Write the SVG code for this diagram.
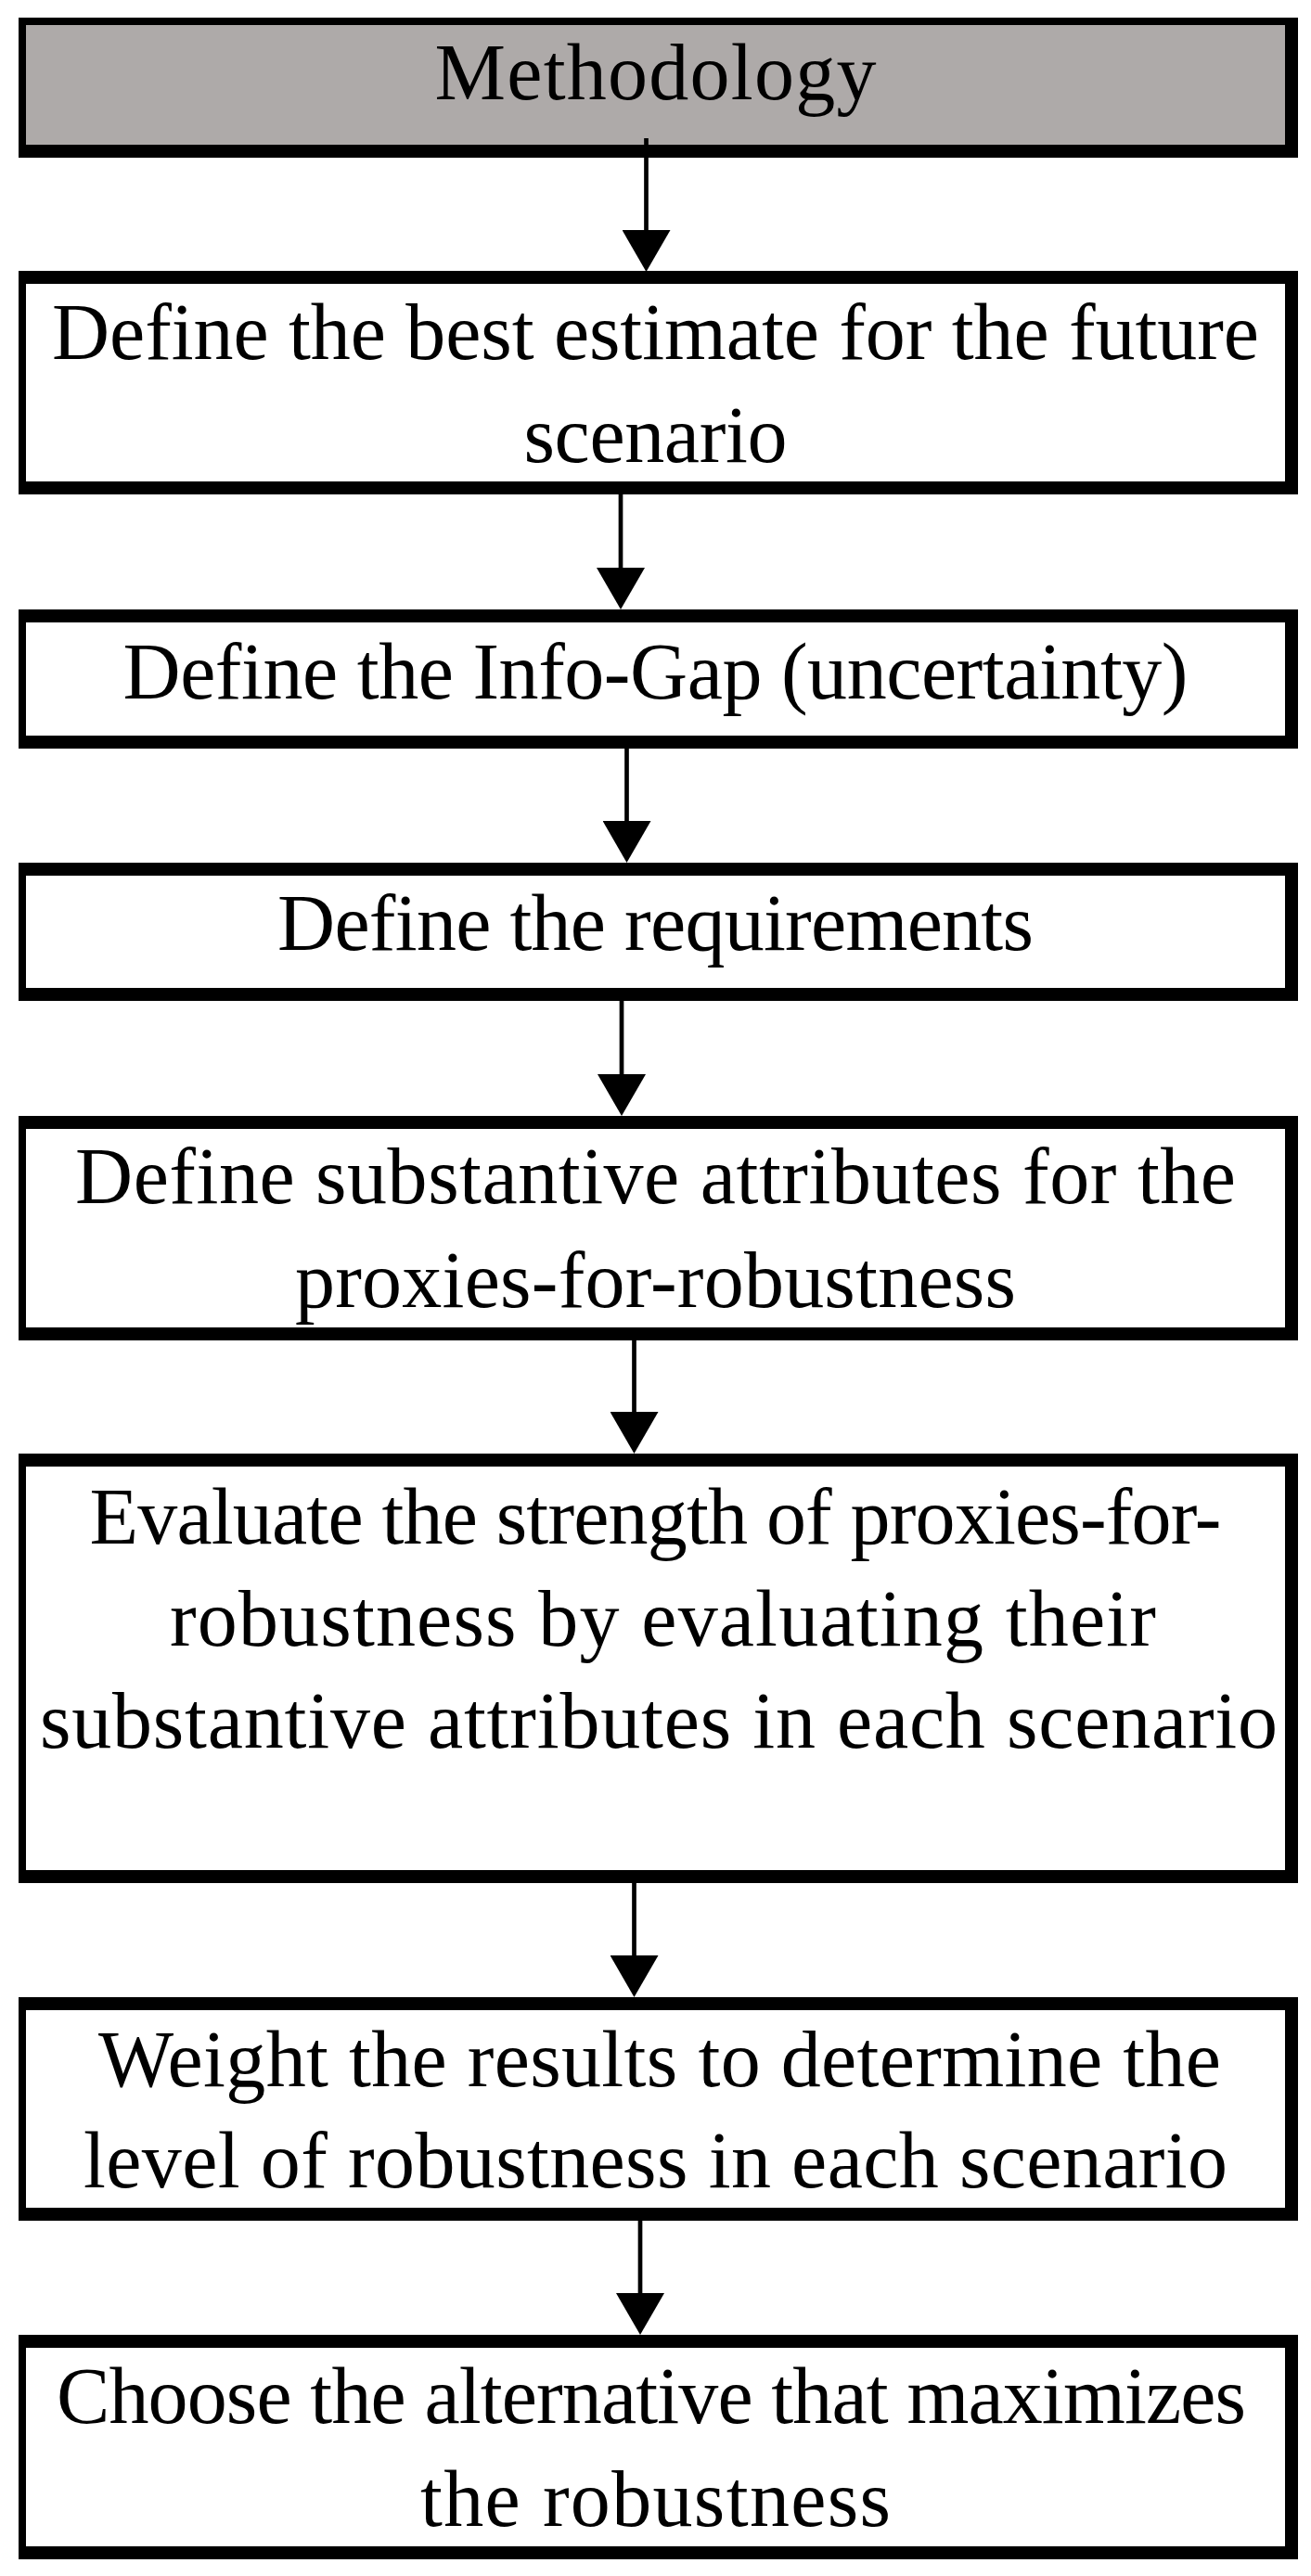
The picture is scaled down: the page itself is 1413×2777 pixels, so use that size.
<svg xmlns="http://www.w3.org/2000/svg" width="1413" height="2777" viewBox="0 0 1413 2777">
<defs>
<style>
.frame{fill:#000}
.in{fill:#fff}
.in.gray{fill:#aeaaa9}
.t{font-family:"Liberation Serif","Times New Roman",serif;font-size:86px;fill:#000;text-anchor:middle}
.conn{stroke:#000;stroke-width:4.7;fill:none}
</style>
<marker id="ah" markerUnits="userSpaceOnUse" viewBox="0 0 45 52" markerWidth="45" markerHeight="52" refX="35" refY="26" orient="auto">
<path d="M0,0 L45,26 L0,52 Z" fill="#000"/>
</marker>
</defs>
<rect width="1413" height="2777" fill="#fff"/>

<g id="connectors">
<path class="conn" d="M696.5,149 V283" marker-end="url(#ah)"/>
<path class="conn" d="M669,533 V647" marker-end="url(#ah)"/>
<path class="conn" d="M675.5,807 V920" marker-end="url(#ah)"/>
<path class="conn" d="M670,1079 V1193" marker-end="url(#ah)"/>
<path class="conn" d="M683.5,1445 V1557" marker-end="url(#ah)"/>
<path class="conn" d="M683.5,2030 V2143" marker-end="url(#ah)"/>
<path class="conn" d="M690,2394 V2507" marker-end="url(#ah)"/>
</g>

<g id="n1">
<rect class="frame" x="20" y="19" width="1379" height="151"/>
<rect class="in gray" x="28" y="27" width="1357" height="129"/>
<path class="conn" d="M696.5,149 V160"/>
<text class="t" x="706.5" y="107" textLength="476" lengthAdjust="spacing">Methodology</text>
</g>

<g id="n2">
<rect class="frame" x="20" y="292" width="1379" height="241"/>
<rect class="in" x="28" y="306" width="1357" height="213"/>
<text class="t" x="706.5" y="387" textLength="1301" lengthAdjust="spacing">Define the best estimate for the future</text>
<text class="t" x="706.5" y="498" textLength="284" lengthAdjust="spacing">scenario</text>
</g>

<g id="n3">
<rect class="frame" x="20" y="657" width="1379" height="150"/>
<rect class="in" x="28" y="671" width="1357" height="122"/>
<text class="t" x="706.5" y="752.5" textLength="1148" lengthAdjust="spacing">Define the Info-Gap (uncertainty)</text>
</g>

<g id="n4">
<rect class="frame" x="20" y="930" width="1379" height="149"/>
<rect class="in" x="28" y="944" width="1357" height="121"/>
<text class="t" x="706.5" y="1024" textLength="815" lengthAdjust="spacing">Define the requirements</text>
</g>

<g id="n5">
<rect class="frame" x="20" y="1203" width="1379" height="242"/>
<rect class="in" x="28" y="1217" width="1357" height="214"/>
<text class="t" x="706.5" y="1297" textLength="1251" lengthAdjust="spacing">Define substantive attributes for the</text>
<text class="t" x="706.5" y="1408.6" textLength="777" lengthAdjust="spacing">proxies-for-robustness</text>
</g>

<g id="n6">
<rect class="frame" x="20" y="1567" width="1379" height="463"/>
<rect class="in" x="28" y="1581" width="1357" height="435"/>
<text class="t" x="706.5" y="1663.6" textLength="1220" lengthAdjust="spacing">Evaluate the strength of proxies-for-</text>
<text class="t" x="714.5" y="1773.6" textLength="1063" lengthAdjust="spacing">robustness by evaluating their</text>
<text class="t" x="710" y="1884" textLength="1334" lengthAdjust="spacing">substantive attributes in each scenario</text>
</g>

<g id="n7">
<rect class="frame" x="20" y="2153" width="1379" height="241"/>
<rect class="in" x="28" y="2167" width="1357" height="213"/>
<text class="t" x="711" y="2249.3" textLength="1210" lengthAdjust="spacing">Weight the results to determine the</text>
<text class="t" x="706.5" y="2357.8" textLength="1233" lengthAdjust="spacing">level of robustness in each scenario</text>
</g>

<g id="n8">
<rect class="frame" x="20" y="2517" width="1379" height="242"/>
<rect class="in" x="28" y="2531" width="1357" height="214"/>
<text class="t" x="702" y="2612" textLength="1282" lengthAdjust="spacing">Choose the alternative that maximizes</text>
<text class="t" x="706.5" y="2722.6" textLength="507" lengthAdjust="spacing">the robustness</text>
</g>
</svg>
